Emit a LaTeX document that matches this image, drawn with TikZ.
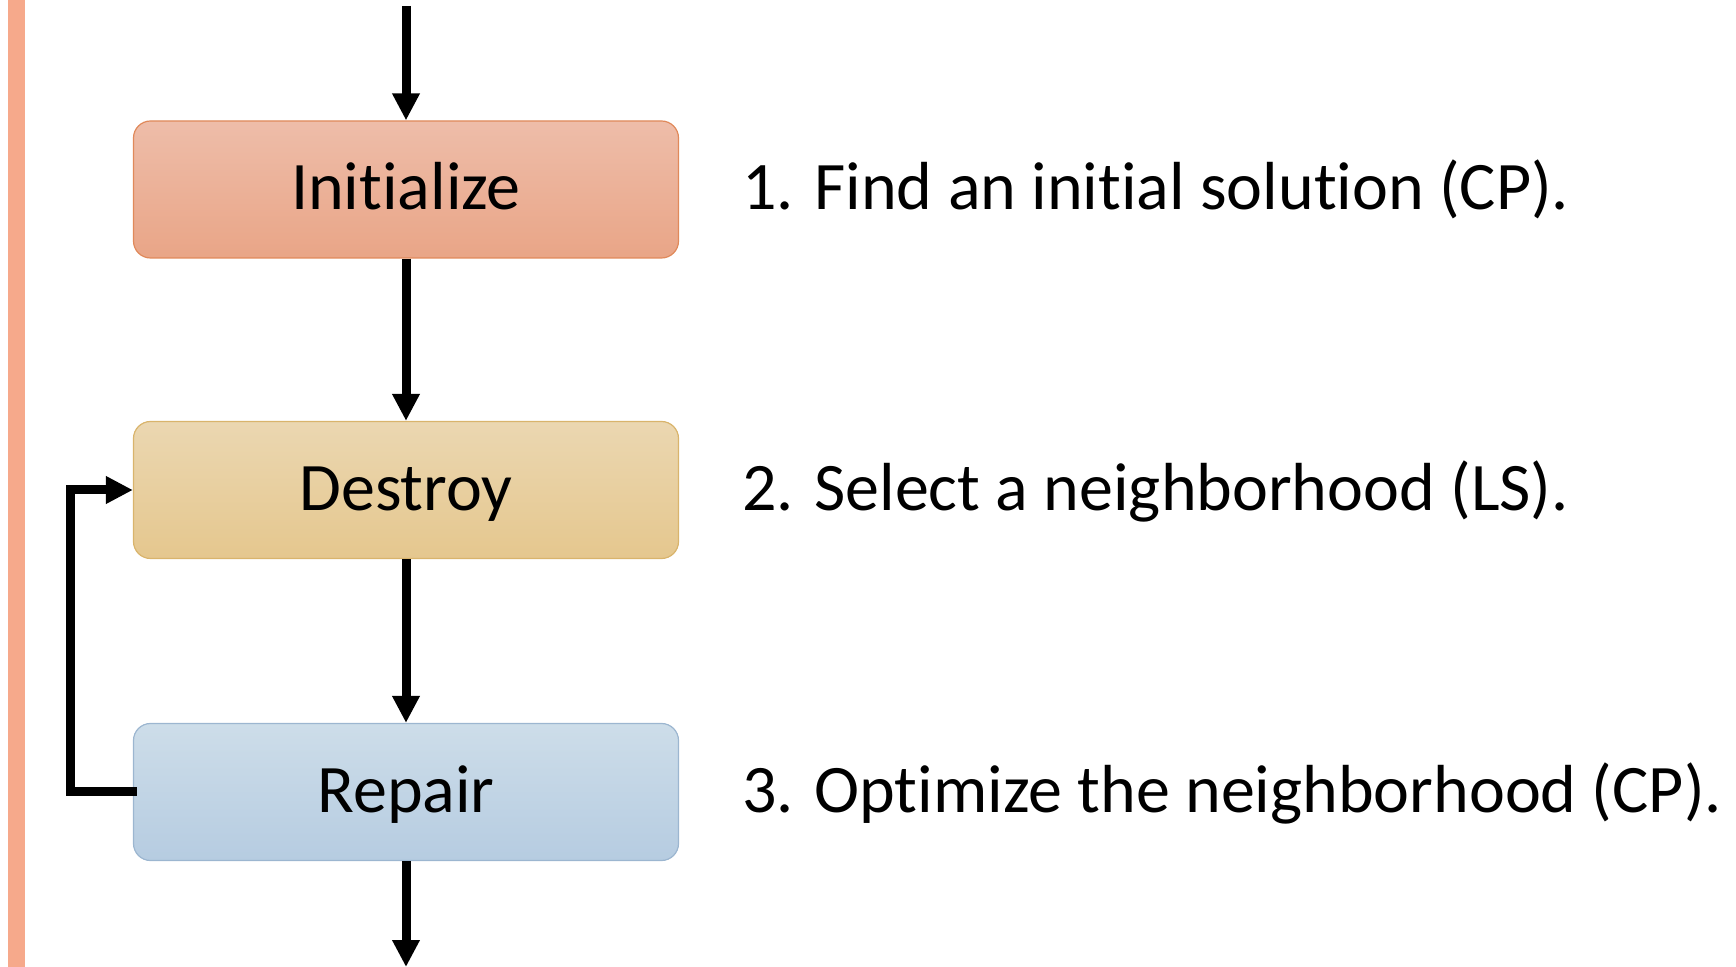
\documentclass[tikz,border=0pt]{standalone}
\usepackage{fontspec}
\setmainfont{Carlito}[Ligatures=NoCommon]
\usetikzlibrary{arrows.meta}

\definecolor{barcol}{HTML}{F6A98B}
\definecolor{initTop}{HTML}{EEBDA9}
\definecolor{initBot}{HTML}{E9A587}
\definecolor{initLine}{HTML}{E0895A}
\definecolor{destTop}{HTML}{EBD7B1}
\definecolor{destBot}{HTML}{E5C78E}
\definecolor{destLine}{HTML}{D9B46C}
\definecolor{repTop}{HTML}{CDDDE9}
\definecolor{repBot}{HTML}{B6CCE1}
\definecolor{repLine}{HTML}{9CB6D0}

\tikzset{
  stagebox/.style={rectangle, rounded corners=8.5pt, line width=0.6pt,
    minimum width=272.5pt, minimum height=68.5pt, inner sep=0pt,
    text height=30pt, text depth=9.5pt,
    font=\fontsize{34}{40}\selectfont},
  stepnote/.style={anchor=base west, inner sep=0pt,
    font=\fontsize{34}{40}\selectfont},
  flow/.style={line width=4.5pt, -{Triangle[length=13.5pt, width=13pt]}},
}

\begin{document}
\begin{tikzpicture}[x=0.5pt, y=-0.5pt]
  \useasboundingbox (0,0) rectangle (1736,967);

  % accent bar on the left edge
  \fill[barcol] (8,0) rectangle (25,967);

  % the three stages
  \node[stagebox, draw=initLine, top color=initTop, bottom color=initBot]
    (init) at (406,189.5) {Initialize};
  \node[stagebox, draw=destLine, top color=destTop, bottom color=destBot]
    (destroy) at (406,490) {Destroy};
  \node[stagebox, draw=repLine, top color=repTop, bottom color=repBot]
    (repair) at (406,792) {Repair};

  % entry and exit points
  \coordinate (entry) at (406,6);
  \coordinate (exit) at (406,967);

  % main flow
  \draw[flow] (entry) -- (init.north);
  \draw[flow] (init.south) -- (destroy.north);
  \draw[flow] (destroy.south) -- (repair.north);
  \draw[flow] (repair.south) -- (exit);

  % loop back from repair to destroy
  \draw[flow] ([xshift=2pt]repair.west) -- ++(-66.5,0) |- (destroy.west);

  % step descriptions
  \node[stepnote] (s1) at (742,210) {1. Find an initial solution (CP).};
  \node[stepnote] (s2) at (742,510.5) {2. Select a neighborhood (LS).};
  \node[stepnote] (s3) at (742,812.5) {3. Optimize the neighborhood (CP).};
\end{tikzpicture}
\end{document}
